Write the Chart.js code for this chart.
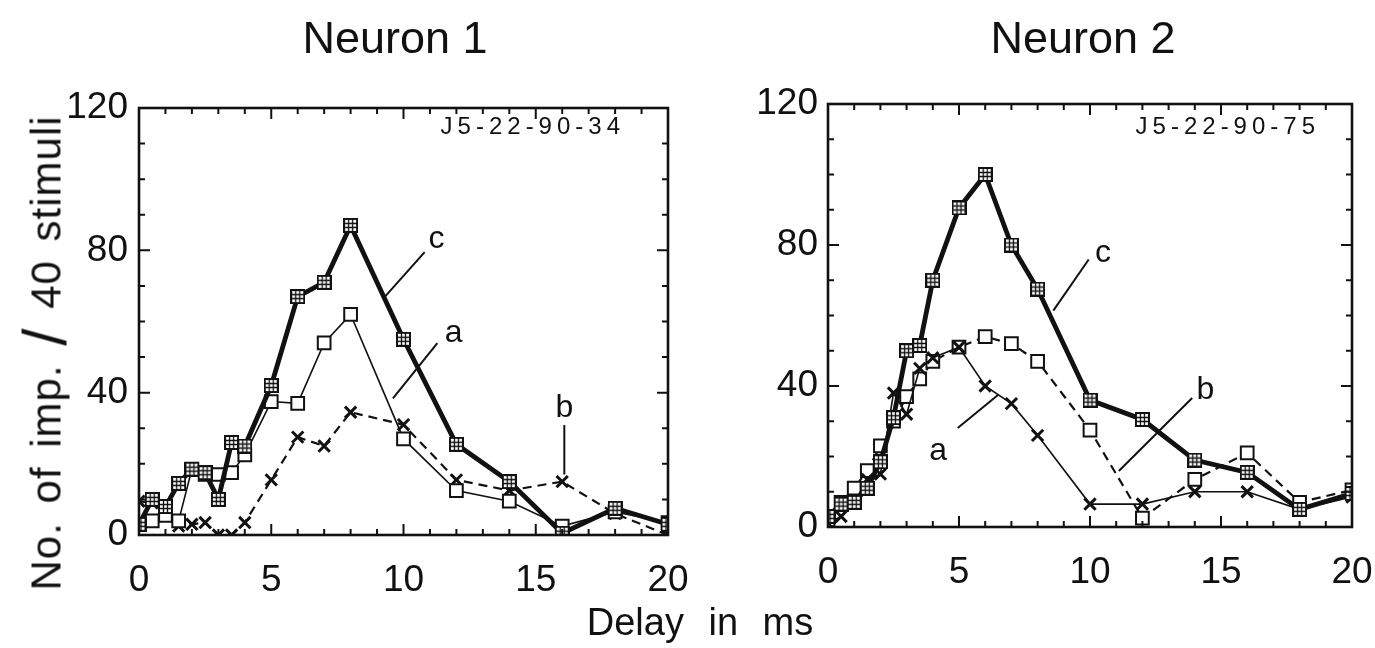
<!DOCTYPE html>
<html>
<head>
<meta charset="utf-8">
<script src="https://cdn.jsdelivr.net/npm/chart.js@4.4.1/dist/chart.umd.min.js"></script>
<style>
  html, body { margin: 0; padding: 0; background: #fff; }
  body { width: 1375px; height: 648px; position: relative; overflow: hidden;
         font-family: "Liberation Sans", Arial, sans-serif; color: #111; }
  canvas { position: absolute; top: 0; }
  .lbl { position: absolute; white-space: nowrap; transform: translate(-50%, -50%); }
  #t1, #t2 { font-size: 45px; top: 38px; }
  #t1 { left: 395px; }
  #t2 { left: 1083px; }
  #xt { left: 700px; top: 622px; font-size: 38px; word-spacing: 14px; }
  #yt { left: 44px; top: 353px; font-size: 42px; letter-spacing: 1px; word-spacing: 6px;
        transform: translate(-50%, -50%) rotate(-90deg); }
  #yt .sl { font-size: 62px; vertical-align: -5px; }
</style>
</head>
<body>
<canvas id="left" width="700" height="648" style="left:0"></canvas>
<canvas id="right" width="675" height="648" style="left:700px"></canvas>
<div class="lbl" id="t1">Neuron 1</div>
<div class="lbl" id="t2">Neuron 2</div>
<div class="lbl" id="xt">Delay in ms</div>
<div class="lbl" id="yt">No. of imp. <span class="sl">/</span> 40 stimuli</div>
<script>
// delays (ms) sampled in both experiments
const delays = [0, 0.5, 1, 1.5, 2, 2.5, 3, 3.5, 4, 5, 6, 7, 8, 10, 12, 14, 16, 18, 20];

// Neuron 1 (J5-22-90-34)
const n1A = [3, 4, 5.5, 4, 18.5, 17, 17, 17.5, 22.5, 37.5, 37, 54, 62, 27, 12.5, 9.5, 2.5, 6.5, 3.5];
const n1B = [9.5, 9, 7, 2.5, 3, 3.5, 0, 0, 3.5, 15.5, 27.5, 25, 34.5, 31, 15.5, 12.5, 15, 6, 0];
const n1C = [3, 10, 8, 14.5, 18.5, 17.5, 10, 26, 25, 42, 67, 71, 87, 55, 25.5, 15, 0.5, 7.5, 3];

// Neuron 2 (J5-22-90-75)
const n2A = [1, 3, 7, 13.5, 15, 38, 32, 45, 48, 51, 40, 35, 26, 6.5, 6.5, 10, 10, 5, 8.5];
const n2B = [2, 7, 11, 16, 23, 30, 37, 42, 47, 51, 54, 52, 47, 27.5, 2.5, 13.5, 21, 7, 10.5];
const n2C = [3, 6.5, 7, 11, 18.5, 31, 50, 51.5, 70, 90.5, 100, 80, 67.5, 36, 30.5, 19, 15.5, 5, 9.5];

const xTicks = [0, 5, 10, 15, 20];
const yTicks = [0, 40, 80, 120];

// curve labels: text, text position, leader line from -> to (data units)
const n1Notes = [
  { t: 'c', at: [11.25, 83], from: [10.8, 79.5], to: [9.3, 67] },
  { t: 'a', at: [11.9, 56.7], from: [11.28, 53.9], to: [9.6, 38.4] },
  { t: 'b', at: [16.08, 35.6], from: [16.08, 30.9], to: [16.08, 17] }
];
const n2Notes = [
  { t: 'c', at: [10.5, 77.8], from: [9.95, 75.9], to: [8.6, 61.4] },
  { t: 'b', at: [14.4, 38.9], from: [13.9, 36.6], to: [11.1, 15.9] },
  { t: 'a', at: [4.2, 21.5], from: [4.95, 28.1], to: [6.5, 37.5] }
];

const FONT = '"Liberation Sans", Arial, sans-serif';
const INK = '#111';

function pts(vals) {
  return vals.map((v, i) => ({ x: delays[i], y: v }));
}

// square with a # inside, like the plotter's boxed marker
function boxMarker() {
  const s = 15;
  const c = document.createElement('canvas');
  c.width = s; c.height = s;
  const g = c.getContext('2d');
  g.fillStyle = '#fff';
  g.fillRect(0, 0, s, s);
  g.strokeStyle = INK;
  g.lineWidth = 2;
  g.strokeRect(1, 1, s - 2, s - 2);
  g.lineWidth = 1.3;
  g.beginPath();
  g.moveTo(5.5, 2); g.lineTo(5.5, s - 2);
  g.moveTo(9.5, 2); g.lineTo(9.5, s - 2);
  g.moveTo(2, 5.5); g.lineTo(s - 2, 5.5);
  g.moveTo(2, 9.5); g.lineTo(s - 2, 9.5);
  g.stroke();
  return c;
}
const boxImg = boxMarker();

const thick = vals => ({
  data: pts(vals), borderColor: INK, borderWidth: 4.8,
  pointStyle: boxImg, pointRadius: 7
});
const openSq = (vals, dashed) => ({
  data: pts(vals), borderColor: INK, borderWidth: dashed ? 2.2 : 1.6,
  borderDash: dashed ? [9, 6] : [],
  pointStyle: 'rect', pointRadius: 9, pointBorderWidth: 2,
  pointBackgroundColor: '#fff', pointBorderColor: INK
});
const cross = (vals, dashed) => ({
  data: pts(vals), borderColor: INK, borderWidth: dashed ? 2.2 : 1.6,
  borderDash: dashed ? [9, 6] : [],
  pointStyle: 'crossRot', pointRadius: 8, pointBorderWidth: 3,
  pointBorderColor: INK
});

const deco = {
  id: 'deco',
  afterDatasetsDraw(chart, args, o) {
    const { ctx, chartArea: a, scales: { x, y } } = chart;
    ctx.save();
    ctx.strokeStyle = INK;
    // inward tick marks on all four sides
    ctx.lineWidth = 2;
    ctx.beginPath();
    for (let v = 1; v < 20; v++) {
      const px = x.getPixelForValue(v);
      const len = v % 5 === 0 ? 11 : 6;
      ctx.moveTo(px, a.bottom); ctx.lineTo(px, a.bottom - len);
      ctx.moveTo(px, a.top); ctx.lineTo(px, a.top + len);
    }
    for (let v = 10; v < 120; v += 10) {
      const py = y.getPixelForValue(v);
      const len = v % 40 === 0 ? 11 : 6;
      ctx.moveTo(a.left, py); ctx.lineTo(a.left + len, py);
      ctx.moveTo(a.right, py); ctx.lineTo(a.right - len, py);
    }
    ctx.stroke();
    // frame
    ctx.lineWidth = 2.6;
    ctx.strokeRect(a.left, a.top, a.right - a.left, a.bottom - a.top);
    // run id
    ctx.fillStyle = INK;
    ctx.font = '24px ' + FONT;
    ctx.letterSpacing = '5px';
    ctx.textAlign = 'right';
    ctx.textBaseline = 'middle';
    ctx.fillText(o.id, a.right - o.idRight, a.top + o.idTop);
    ctx.letterSpacing = '0px';
    // curve labels with leader lines
    ctx.font = '32px ' + FONT;
    ctx.textAlign = 'center';
    ctx.lineWidth = 2;
    o.notes.forEach(n => {
      ctx.fillText(n.t, x.getPixelForValue(n.at[0]), y.getPixelForValue(n.at[1]));
      ctx.beginPath();
      ctx.moveTo(x.getPixelForValue(n.from[0]), y.getPixelForValue(n.from[1]));
      ctx.lineTo(x.getPixelForValue(n.to[0]), y.getPixelForValue(n.to[1]));
      ctx.stroke();
    });
    ctx.restore();
  }
};

function panel(id, datasets, box) {
  return new Chart(document.getElementById(id), {
    type: 'line',
    data: { datasets },
    plugins: [deco],
    options: {
      responsive: false,
      animation: false,
      layout: { padding: { top: box.top, right: box.right, left: 0, bottom: 0 } },
      elements: { line: { tension: 0 } },
      plugins: {
        legend: { display: false },
        tooltip: { enabled: false },
        deco: { id: box.id, notes: box.notes, idRight: box.idRight, idTop: box.idTop }
      },
      scales: {
        x: {
          type: 'linear', min: 0, max: 20,
          afterFit: s => { s.height = box.xh; s.paddingLeft = 0; s.paddingRight = 0; },
          afterBuildTicks: s => { s.ticks = xTicks.map(v => ({ value: v })); },
          grid: { display: false, drawTicks: false },
          border: { display: false },
          ticks: { color: INK, font: { size: 37, family: FONT }, padding: 24, maxRotation: 0 }
        },
        y: {
          min: 0, max: 120,
          afterFit: s => { s.width = box.yw; s.paddingTop = 0; s.paddingBottom = 0; },
          afterBuildTicks: s => { s.ticks = yTicks.map(v => ({ value: v })); },
          grid: { display: false, drawTicks: false },
          border: { display: false },
          ticks: { color: INK, font: { size: 37, family: FONT }, padding: box.ypad }
        }
      }
    }
  });
}

panel('left', [thick(n1C), openSq(n1A, false), cross(n1B, true)],
  { top: 108, right: 32, xh: 113, yw: 139, ypad: 11,
    id: 'J5-22-90-34', notes: n1Notes, idRight: 43, idTop: 19 });

panel('right', [thick(n2C), cross(n2A, false), openSq(n2B, true)],
  { top: 104, right: 23, xh: 121, yw: 128, ypad: 10,
    id: 'J5-22-90-75', notes: n2Notes, idRight: 32, idTop: 23 });
</script>
</body>
</html>
